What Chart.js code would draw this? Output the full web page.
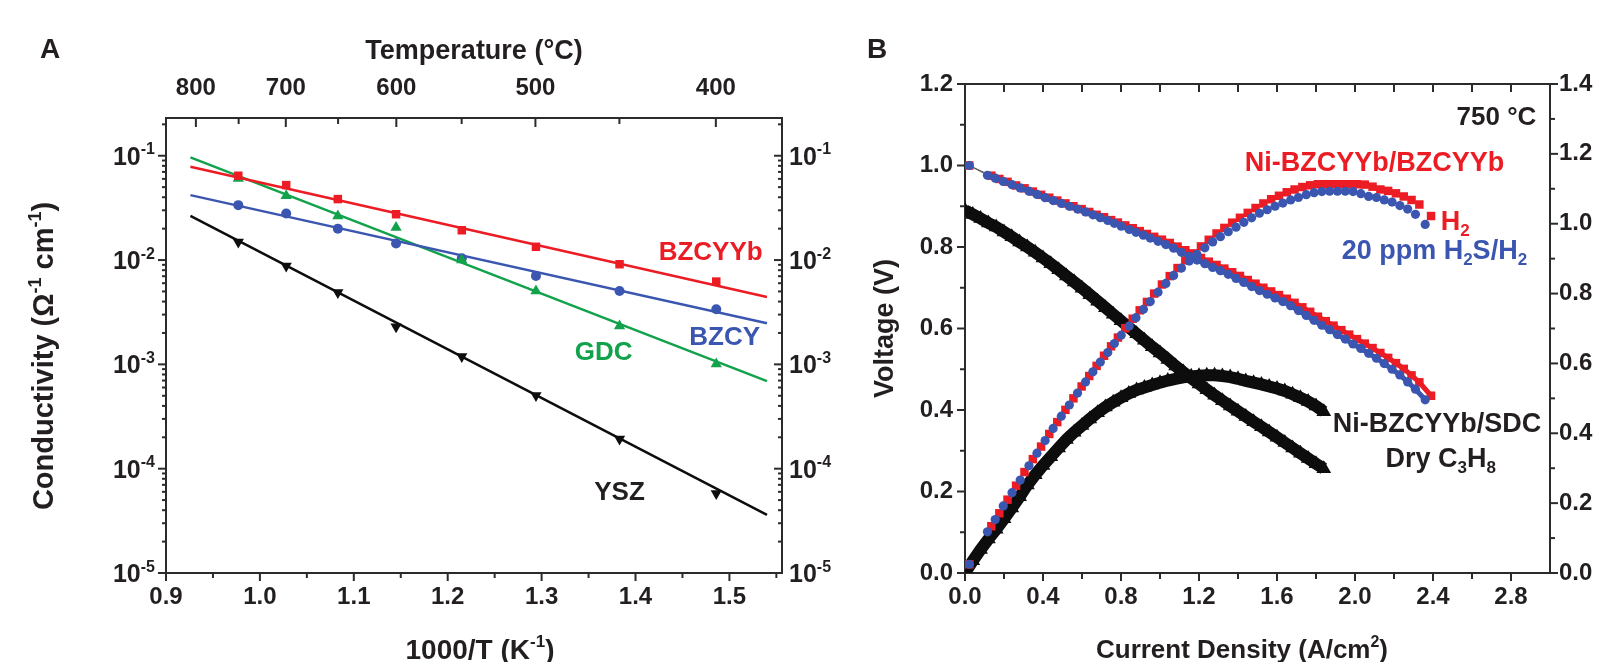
<!DOCTYPE html>
<html>
<head>
<meta charset="utf-8">
<script src="https://cdn.jsdelivr.net/npm/chart.js@4.4.1/dist/chart.umd.min.js"></script>
<style>
  html, body { margin: 0; padding: 0; background: #fff; overflow: hidden; }
  body { width: 1597px; height: 662px; position: relative; }
  canvas { position: absolute; top: 0; }
  #chartA { left: 0; }
  #chartB { left: 840px; }
</style>
</head>
<body>
<canvas id="chartA" width="840" height="662"></canvas>
<canvas id="chartB" width="800" height="662"></canvas>
<script>
/* Panel A: conductivity vs 1000/T, panel B: I-V-P curves */

const FONT = '"Liberation Sans", Arial, Helvetica, sans-serif';
const INK = '#231f20';
const AXIS = '#2b2b2b';
const RED = '#ec1c24';
const BLUE = '#3b56b0';
const GREEN = '#12a24c';
const BLACK = '#0d0d0d';

// ---------- panel A data ----------
const invTTicks = [0.9, 1.0, 1.1, 1.2, 1.3, 1.4, 1.5];
const invTMinor = [0.95, 1.05, 1.15, 1.25, 1.35, 1.45, 1.55];
const tempMajor = [800, 700, 600, 500, 400];
const tempMinor = [750, 650, 550, 450];
const condExponents = [-5, -4, -3, -2, -1];

const invT = [0.977, 1.028, 1.083, 1.145, 1.215, 1.294, 1.383, 1.486];
const bzcyyb = [0.0643, 0.0523, 0.0384, 0.0275, 0.0193, 0.0134, 0.00912, 0.00622];
const bzcy = [0.0336, 0.0279, 0.0200, 0.0144, 0.0104, 0.00705, 0.00506, 0.00337];
const gdc = [0.0605, 0.0413, 0.0265, 0.0205, 0.0100, 0.00506, 0.00233, 0.00101];
const ysz = [0.0149, 0.00879, 0.00488, 0.00230, 0.00119, 0.000504, 0.000193, 0.0000578];

const fitX = [0.926, 1.540];
const bzcyybFit = [0.0784, 0.00443];
const bzcyFit = [0.0419, 0.00248];
const gdcFit = [0.0964, 0.00069];
const yszFit = [0.0265, 0.000036];

// ---------- panel B data ----------
const jTicks = [0, 0.4, 0.8, 1.2, 1.6, 2.0, 2.4, 2.8];
const jMinor = [0.2, 0.6, 1.0, 1.4, 1.8, 2.2, 2.6];
const vTicks = [0, 0.2, 0.4, 0.6, 0.8, 1.0, 1.2];
const vMinor = [0.1, 0.3, 0.5, 0.7, 0.9, 1.1];
const pTicks = [0, 0.2, 0.4, 0.6, 0.8, 1.0, 1.2, 1.4];
const pMinor = [0.1, 0.3, 0.5, 0.7, 0.9, 1.1, 1.3];

// 20 ppm H2S/H2 (blue)
const blueJ = [0.022, 0.115, 0.155, 0.196, 0.241, 0.283, 0.328, 0.369, 0.411, 0.452,
  0.494, 0.535, 0.577, 0.618, 0.656, 0.694, 0.732, 0.766, 0.801, 0.842,
  0.877, 0.915, 0.950, 0.99, 1.03, 1.07, 1.11, 1.15, 1.19, 1.23,
  1.27, 1.31, 1.35, 1.39, 1.43, 1.47, 1.51, 1.55, 1.59, 1.63,
  1.67, 1.71, 1.75, 1.79, 1.83, 1.87, 1.91, 1.95, 1.99, 2.03,
  2.07, 2.11, 2.15, 2.19, 2.23, 2.27, 2.31, 2.36];
const blueV = [1.000, 0.976, 0.969, 0.961, 0.953, 0.945, 0.937, 0.929, 0.921, 0.914,
  0.907, 0.900, 0.893, 0.886, 0.879, 0.872, 0.865, 0.858, 0.851, 0.843,
  0.836, 0.829, 0.822, 0.814, 0.806, 0.797, 0.787, 0.777, 0.768, 0.759,
  0.750, 0.742, 0.733, 0.723, 0.713, 0.703, 0.693, 0.684, 0.675, 0.666,
  0.656, 0.644, 0.632, 0.620, 0.608, 0.597, 0.585, 0.574, 0.562, 0.551,
  0.539, 0.527, 0.514, 0.500, 0.486, 0.469, 0.451, 0.425];
const blueP = [0.025, 0.118, 0.153, 0.192, 0.230, 0.266, 0.307, 0.343, 0.379, 0.414,
  0.449, 0.481, 0.515, 0.547, 0.576, 0.604, 0.631, 0.657, 0.681, 0.707,
  0.731, 0.755, 0.777, 0.804, 0.829, 0.852, 0.873, 0.893, 0.912, 0.931,
  0.948, 0.963, 0.977, 0.990, 1.004, 1.017, 1.030, 1.040, 1.050, 1.059,
  1.068, 1.075, 1.083, 1.089, 1.092, 1.093, 1.093, 1.093, 1.092, 1.086,
  1.078, 1.075, 1.068, 1.062, 1.052, 1.042, 1.027, 0.998];

// H2 (red)
const redJ = [0.022, 0.135, 0.176, 0.218, 0.262, 0.305, 0.348, 0.390, 0.432, 0.473,
  0.515, 0.556, 0.598, 0.637, 0.675, 0.713, 0.749, 0.784, 0.822, 0.860,
  0.896, 0.933, 0.97, 1.01, 1.05, 1.09, 1.13, 1.17, 1.21, 1.25,
  1.29, 1.33, 1.37, 1.41, 1.45, 1.49, 1.53, 1.57, 1.61, 1.65,
  1.69, 1.73, 1.77, 1.81, 1.85, 1.89, 1.93, 1.97, 2.01, 2.05,
  2.09, 2.13, 2.17, 2.21, 2.25, 2.29, 2.33, 2.39];
const redV = [1.000, 0.975, 0.967, 0.960, 0.951, 0.944, 0.936, 0.928, 0.921, 0.914,
  0.907, 0.900, 0.893, 0.886, 0.879, 0.873, 0.866, 0.860, 0.853, 0.846,
  0.839, 0.832, 0.825, 0.818, 0.810, 0.801, 0.792, 0.782, 0.773, 0.764,
  0.756, 0.747, 0.738, 0.729, 0.719, 0.710, 0.700, 0.691, 0.682, 0.673,
  0.663, 0.652, 0.641, 0.629, 0.618, 0.607, 0.596, 0.585, 0.574, 0.563,
  0.552, 0.540, 0.528, 0.515, 0.501, 0.485, 0.468, 0.435];
const redP = [0.025, 0.134, 0.171, 0.210, 0.250, 0.289, 0.326, 0.362, 0.398, 0.432,
  0.467, 0.500, 0.534, 0.564, 0.593, 0.622, 0.649, 0.674, 0.701, 0.728,
  0.752, 0.776, 0.800, 0.826, 0.850, 0.873, 0.895, 0.915, 0.935, 0.954,
  0.972, 0.988, 1.003, 1.017, 1.031, 1.045, 1.058, 1.070, 1.080, 1.090,
  1.098, 1.105, 1.110, 1.113, 1.113, 1.113, 1.113, 1.113, 1.113, 1.112,
  1.106, 1.098, 1.094, 1.087, 1.078, 1.068, 1.055, 1.022];

// Ni-BZCYYb/SDC, dry C3H8 (black)
const blackJ = [0.00, 0.04, 0.08, 0.12, 0.16, 0.20, 0.24, 0.28, 0.32, 0.36,
  0.40, 0.44, 0.48, 0.52, 0.56, 0.60, 0.64, 0.68, 0.72, 0.76,
  0.80, 0.84, 0.88, 0.92, 0.96, 1.00, 1.04, 1.08, 1.12, 1.16,
  1.20, 1.24, 1.28, 1.32, 1.36, 1.40, 1.44, 1.48, 1.52, 1.56,
  1.60, 1.64, 1.68, 1.72, 1.76, 1.80, 1.84];
const blackV = [0.890, 0.880, 0.870, 0.859, 0.849, 0.837, 0.825, 0.812, 0.800, 0.787,
  0.773, 0.759, 0.744, 0.729, 0.714, 0.699, 0.683, 0.667, 0.651, 0.635,
  0.619, 0.603, 0.587, 0.571, 0.555, 0.540, 0.524, 0.508, 0.493, 0.478,
  0.464, 0.450, 0.436, 0.423, 0.410, 0.397, 0.384, 0.371, 0.359, 0.346,
  0.333, 0.320, 0.307, 0.294, 0.281, 0.268, 0.256];
const blackP = [0.000, 0.035, 0.067, 0.097, 0.125, 0.155, 0.186, 0.218, 0.252, 0.281,
  0.308, 0.333, 0.358, 0.382, 0.403, 0.422, 0.441, 0.459, 0.475, 0.489,
  0.502, 0.514, 0.524, 0.531, 0.538, 0.545, 0.551, 0.556, 0.560, 0.563,
  0.565, 0.566, 0.566, 0.564, 0.561, 0.556, 0.550, 0.545, 0.540, 0.534,
  0.528, 0.521, 0.512, 0.502, 0.491, 0.478, 0.462];

// ---------- helpers ----------
Chart.defaults.font.family = FONT;
Chart.defaults.font.size = 24;
Chart.defaults.font.weight = 'bold';
Chart.defaults.color = INK;

const pts = (xs, ys) => xs.map((x, i) => ({ x, y: ys[i] }));
const invK = c => 1000 / (c + 273.15);

const logMinor = [];
condExponents.forEach(e => {
  [2, 3, 4, 5, 6, 7, 8, 9].forEach(m => {
    const v = m * Math.pow(10, e);
    if (v < 0.23) logMinor.push(v);
  });
});

// text runs with super / subscripts: [text, 0 normal | 1 sup | -1 sub]
function rich(ctx, parts, x, y, size, align, color) {
  const big = `bold ${size}px ${FONT}`;
  const small = `bold ${Math.round(size * 0.62)}px ${FONT}`;
  let w = 0;
  parts.forEach(([t, k]) => { ctx.font = k ? small : big; w += ctx.measureText(t).width; });
  let cx = align === 'center' ? x - w / 2 : align === 'right' ? x - w : x;
  const base = y + size * 0.36;
  ctx.fillStyle = color;
  ctx.textAlign = 'left';
  ctx.textBaseline = 'alphabetic';
  parts.forEach(([t, k]) => {
    ctx.font = k ? small : big;
    const dy = k === 1 ? -size * 0.42 : k === -1 ? size * 0.22 : 0;
    ctx.fillText(t, cx, base + dy);
    cx += ctx.measureText(t).width;
  });
}

// tick marks, labels and notes drawn on top of the chart
function makeDeco(cfg) {
  return {
    id: 'deco' + cfg.name,
    afterDraw(chart) {
      const ctx = chart.ctx;
      const ca = chart.chartArea;
      ctx.save();
      ctx.strokeStyle = AXIS;
      ctx.lineWidth = 2;
      cfg.ticks.forEach(t => {
        const s = chart.scales[t.scale];
        const draw = (v, len) => {
          const p = s.getPixelForValue(v);
          const d = t.dir === 'out' ? len : -len;
          ctx.beginPath();
          if (t.side === 'bottom') { ctx.moveTo(p, ca.bottom); ctx.lineTo(p, ca.bottom + d); }
          if (t.side === 'top') { ctx.moveTo(p, ca.top); ctx.lineTo(p, ca.top - d); }
          if (t.side === 'left') { ctx.moveTo(ca.left, p); ctx.lineTo(ca.left - d, p); }
          if (t.side === 'right') { ctx.moveTo(ca.right, p); ctx.lineTo(ca.right + d, p); }
          ctx.stroke();
        };
        t.major.forEach(v => draw(v, t.majorLen));
        t.minor.forEach(v => draw(v, t.minorLen));
      });
      (cfg.logLabels || []).forEach(l => {
        const s = chart.scales[l.scale];
        condExponents.forEach(e => {
          const py = s.getPixelForValue(Math.pow(10, e));
          const x = l.side === 'left' ? ca.left - 11 : ca.right + 7;
          rich(ctx, [['10', 0], [String(e), 1]], x, py, 25, l.side === 'left' ? 'right' : 'left', INK);
        });
      });
      (cfg.notes || []).forEach(n => {
        const px = chart.scales.x.getPixelForValue(n.x);
        const py = chart.scales[n.yScale || 'y'].getPixelForValue(n.y);
        rich(ctx, n.parts, px, py, n.size || 27, n.align || 'center', n.color || INK);
      });
      (cfg.fixed || []).forEach(f => {
        ctx.save();
        ctx.translate(f.x, f.y);
        if (f.rotate) ctx.rotate(f.rotate);
        rich(ctx, f.parts, 0, 0, f.size || 27, 'center', INK);
        ctx.restore();
      });
      ctx.restore();
    }
  };
}

const noGrid = { display: false, drawTicks: false };
const border = { display: true, color: AXIS, width: 2 };

// ---------- panel A ----------
const A = { left: 166, right: 782, top: 118, bottom: 573, w: 840, h: 662 };

new Chart(document.getElementById('chartA'), {
  type: 'scatter',
  data: {
    datasets: [
      { data: pts(invT, bzcyyb), pointStyle: 'rect', pointRadius: 6, pointBackgroundColor: RED, pointBorderColor: RED, pointBorderWidth: 0 },
      { data: pts(invT, gdc), pointStyle: 'triangle', pointRadius: 6.5, pointBackgroundColor: GREEN, pointBorderColor: GREEN, pointBorderWidth: 0 },
      { data: pts(invT, bzcy), pointStyle: 'circle', pointRadius: 5, pointBackgroundColor: BLUE, pointBorderColor: BLUE, pointBorderWidth: 0 },
      { data: pts(invT, ysz), pointStyle: 'triangle', rotation: 180, pointRadius: 6.5, pointBackgroundColor: BLACK, pointBorderColor: BLACK, pointBorderWidth: 0 },
      { data: pts(fitX, bzcyybFit), showLine: true, pointRadius: 0, borderColor: RED, borderWidth: 2.5 },
      { data: pts(fitX, bzcyFit), showLine: true, pointRadius: 0, borderColor: BLUE, borderWidth: 2.5 },
      { data: pts(fitX, gdcFit), showLine: true, pointRadius: 0, borderColor: GREEN, borderWidth: 2.5 },
      { data: pts(fitX, yszFit), showLine: true, pointRadius: 0, borderColor: BLACK, borderWidth: 2.5 }
    ]
  },
  options: {
    responsive: false,
    animation: false,
    events: [],
    layout: { padding: 0 },
    plugins: { legend: { display: false }, tooltip: { enabled: false } },
    scales: {
      x: {
        type: 'linear', position: 'bottom', min: 0.9, max: 1.556,
        afterBuildTicks: s => { s.ticks = invTTicks.map(v => ({ value: v })); },
        afterFit: s => { s.height = A.h - A.bottom; },
        ticks: { padding: 10, autoSkip: false, maxRotation: 0, callback: v => v.toFixed(1) },
        grid: noGrid, border
      },
      xTop: {
        type: 'linear', position: 'top', min: 0.9, max: 1.556,
        afterBuildTicks: s => { s.ticks = tempMajor.map(c => ({ value: invK(c) })); },
        afterFit: s => { s.height = A.top; },
        ticks: { padding: 15, autoSkip: false, maxRotation: 0, callback: (v, i) => String(tempMajor[i]) },
        title: { display: true, text: 'Temperature (°C)', font: { size: 27, weight: 'bold', lineHeight: 1 }, padding: { top: 38, bottom: 0 } },
        grid: noGrid, border
      },
      y: {
        type: 'logarithmic', position: 'left', min: 1e-5, max: 0.23,
        afterFit: s => { s.width = A.left; },
        ticks: { display: false }, grid: noGrid, border
      },
      y2: {
        type: 'logarithmic', position: 'right', min: 1e-5, max: 0.23,
        afterFit: s => { s.width = A.w - A.right; },
        ticks: { display: false }, grid: noGrid, border
      }
    }
  },
  plugins: [makeDeco({
    name: 'A',
    ticks: [
      { scale: 'x', side: 'bottom', dir: 'out', major: invTTicks, minor: invTMinor, majorLen: 8, minorLen: 5 },
      { scale: 'x', side: 'top', dir: 'in', major: tempMajor.map(invK), minor: tempMinor.map(invK), majorLen: 9, minorLen: 6 },
      { scale: 'y', side: 'left', dir: 'out', major: condExponents.map(e => Math.pow(10, e)), minor: logMinor, majorLen: 8, minorLen: 4 },
      { scale: 'y', side: 'right', dir: 'in', major: condExponents.map(e => Math.pow(10, e)), minor: logMinor, majorLen: 8, minorLen: 4 }
    ],
    logLabels: [{ scale: 'y', side: 'left' }, { scale: 'y', side: 'right' }],
    notes: [
      { x: 1.48, y: 0.0123, parts: [['BZCYYb', 0]], color: RED, size: 26 },
      { x: 1.495, y: 0.00187, parts: [['BZCY', 0]], color: BLUE, size: 26 },
      { x: 1.366, y: 0.00135, parts: [['GDC', 0]], color: GREEN, size: 26 },
      { x: 1.383, y: 0.000062, parts: [['YSZ', 0]], color: INK, size: 26 }
    ],
    fixed: [
      { x: 50, y: 48, parts: [['A', 0]], size: 28 },
      { x: 43, y: 356, rotate: -Math.PI / 2, parts: [['Conductivity (Ω', 0], ['-1', 1], [' cm', 0], ['-1', 1], [')', 0]], size: 29 },
      { x: 480, y: 649, parts: [['1000/T (K', 0], ['-1', 1], [')', 0]], size: 28 }
    ]
  })]
});

// ---------- panel B ----------
const B = { left: 125, right: 710, top: 84, bottom: 573, w: 800, h: 662 };

const mark = (color, style, r) => ({
  pointStyle: style, pointRadius: r, pointBackgroundColor: color, pointBorderColor: color, pointBorderWidth: 0
});
// thin connector only between the open-circuit point and the next one
const ocvLink = (color, w) => ({
  showLine: true, borderColor: color, borderWidth: w,
  segment: {
    borderColor: c => (c.p0DataIndex === 0 ? '#555' : color),
    borderWidth: c => (c.p0DataIndex === 0 ? 1 : w)
  }
});

new Chart(document.getElementById('chartB'), {
  type: 'scatter',
  data: {
    datasets: [
      { data: pts(blueJ, blueV), ...mark(BLUE, 'circle', 4.6), ...ocvLink(BLUE, 5) },
      { data: pts(blueJ, blueP), ...mark(BLUE, 'circle', 4.6), yAxisID: 'y2' },
      { data: pts(redJ, redV), ...mark(RED, 'rect', 6), ...ocvLink(RED, 5) },
      { data: pts(redJ, redP), ...mark(RED, 'rect', 6), yAxisID: 'y2' },
      { data: pts(blackJ, blackV), ...mark(BLACK, 'triangle', 8.5), showLine: true, borderColor: BLACK, borderWidth: 12 },
      { data: pts(blackJ, blackP), ...mark(BLACK, 'triangle', 8.5), showLine: true, borderColor: BLACK, borderWidth: 12, yAxisID: 'y2' }
    ]
  },
  options: {
    responsive: false,
    animation: false,
    events: [],
    layout: { padding: 0 },
    plugins: { legend: { display: false }, tooltip: { enabled: false } },
    scales: {
      x: {
        type: 'linear', position: 'bottom', min: 0, max: 3,
        afterBuildTicks: s => { s.ticks = jTicks.map(v => ({ value: v })); },
        afterFit: s => { s.height = B.h - B.bottom; },
        ticks: { padding: 10, autoSkip: false, maxRotation: 0, callback: v => v.toFixed(1) },
        grid: noGrid, border
      },
      xTop: {
        type: 'linear', position: 'top', min: 0, max: 3,
        afterFit: s => { s.height = B.top; },
        ticks: { display: false }, grid: noGrid, border
      },
      y: {
        type: 'linear', position: 'left', min: 0, max: 1.2,
        afterBuildTicks: s => { s.ticks = vTicks.map(v => ({ value: v })); },
        afterFit: s => { s.width = B.left; },
        ticks: { padding: 12, autoSkip: false, callback: v => v.toFixed(1) },
        title: { display: true, text: 'Voltage (V)', font: { size: 27, weight: 'bold', lineHeight: 1 }, padding: { top: 32, bottom: 0 } },
        grid: noGrid, border
      },
      y2: {
        type: 'linear', position: 'right', min: 0, max: 1.4,
        afterBuildTicks: s => { s.ticks = pTicks.map(v => ({ value: v })); },
        afterFit: s => { s.width = B.w - B.right; },
        ticks: { padding: 9, autoSkip: false, callback: v => v.toFixed(1) },
        grid: noGrid, border
      }
    }
  },
  plugins: [makeDeco({
    name: 'B',
    ticks: [
      { scale: 'x', side: 'bottom', dir: 'out', major: jTicks, minor: jMinor, majorLen: 8, minorLen: 6 },
      { scale: 'x', side: 'top', dir: 'in', major: jTicks, minor: jMinor, majorLen: 8, minorLen: 8 },
      { scale: 'y', side: 'left', dir: 'out', major: vTicks, minor: vMinor, majorLen: 8, minorLen: 5 },
      { scale: 'y2', side: 'right', dir: 'out', major: pTicks, minor: pMinor, majorLen: 8, minorLen: 5 }
    ],
    notes: [
      { x: 2.93, y: 1.123, parts: [['750 °C', 0]], align: 'right', color: INK, size: 26 },
      { x: 2.10, y: 1.011, parts: [['Ni-BZCYYb/BZCYYb', 0]], color: RED },
      { x: 2.44, y: 0.866, parts: [['H', 0], ['2', -1]], align: 'left', color: RED },
      { x: 2.407, y: 0.795, parts: [['20 ppm H', 0], ['2', -1], ['S/H', 0], ['2', -1]], color: BLUE },
      { x: 2.42, y: 0.371, parts: [['Ni-BZCYYb/SDC', 0]], color: INK },
      { x: 2.44, y: 0.285, parts: [['Dry C', 0], ['3', -1], ['H', 0], ['8', -1]], color: INK }
    ],
    fixed: [
      { x: 37, y: 48, parts: [['B', 0]], size: 28 },
      { x: 402, y: 649, parts: [['Current Density (A/cm', 0], ['2', 1], [')', 0]], size: 26 }
    ]
  })]
});
</script>
</body>
</html>
